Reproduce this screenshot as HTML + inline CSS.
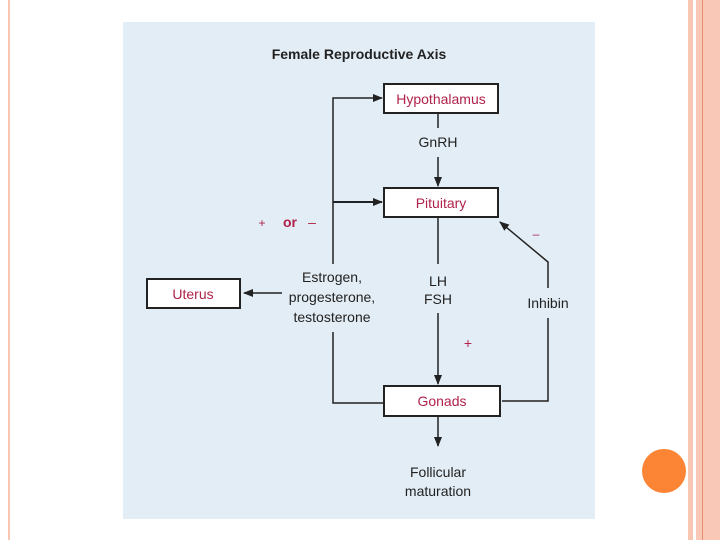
<!DOCTYPE html>
<html><head><style>
body{margin:0;width:720px;height:540px;background:#fff;position:relative;overflow:hidden;font-family:"Liberation Sans",sans-serif}
.s{position:absolute;top:0;height:540px}
</style></head><body>
<div class="s" style="left:8px;width:2px;background:#f9c6b4"></div>
<div class="s" style="left:688px;width:5px;background:#f9c6b4"></div>
<div class="s" style="left:696px;width:24px;background:#f9c8b6"></div>
<div class="s" style="left:702px;width:1px;background:#e8906d"></div>
<div style="position:absolute;left:642px;top:449px;width:44px;height:44px;border-radius:50%;background:#fb8534"></div>
<svg width="720" height="540" style="position:absolute;left:0;top:0" font-family="Liberation Sans, sans-serif">
<defs><marker id="a" markerWidth="10" markerHeight="8" refX="9" refY="4" orient="auto" markerUnits="userSpaceOnUse"><path d="M0,0L10,4L0,8z" fill="#222"/></marker></defs>
<rect x="123" y="22" width="472" height="497" fill="#e3edf5"/>
<text x="359" y="59" font-size="14" font-weight="bold" text-anchor="middle" fill="#222">Female Reproductive Axis</text>
<g stroke="#222" stroke-width="1.5" fill="none">
<path d="M384,403H333V332"/>
<path d="M333,264V98H382" marker-end="url(#a)"/>
<path d="M333,202H382" stroke-width="2" marker-end="url(#a)"/>
<path d="M282,293H244" marker-end="url(#a)"/>
<path d="M438,113V128"/><path d="M438,157V186" marker-end="url(#a)"/>
<path d="M438,217V264"/><path d="M438,313V384" marker-end="url(#a)"/>
<path d="M438,416V446" marker-end="url(#a)"/>
<path d="M502,401H548V318"/>
<path d="M548,288V262L500,222" marker-end="url(#a)"/>
</g>
<g fill="#fff" stroke="#222" stroke-width="2">
<rect x="384" y="84" width="114" height="29"/>
<rect x="384" y="188" width="114" height="29"/>
<rect x="384" y="386" width="116" height="30"/>
<rect x="147" y="279" width="93" height="29"/>
</g>
<g fill="#b0224a" font-size="14" text-anchor="middle">
<text x="441" y="104">Hypothalamus</text>
<text x="441" y="208">Pituitary</text>
<text x="442" y="406">Gonads</text>
<text x="193" y="299">Uterus</text>
<text x="262" y="227" font-size="12">+</text>
<text x="290" y="227" font-weight="bold">or</text>
<text x="312" y="227">–</text>
<text x="536" y="238" font-size="12">–</text>
<text x="468" y="348">+</text>
</g>
<g fill="#222" font-size="14" text-anchor="middle">
<text x="438" y="147">GnRH</text>
<text x="438" y="286">LH</text>
<text x="438" y="304">FSH</text>
<text x="332" y="282">Estrogen,</text>
<text x="332" y="302">progesterone,</text>
<text x="332" y="322">testosterone</text>
<text x="548" y="308">Inhibin</text>
<text x="438" y="477">Follicular</text>
<text x="438" y="496">maturation</text>
</g>
</svg>
</body></html>
